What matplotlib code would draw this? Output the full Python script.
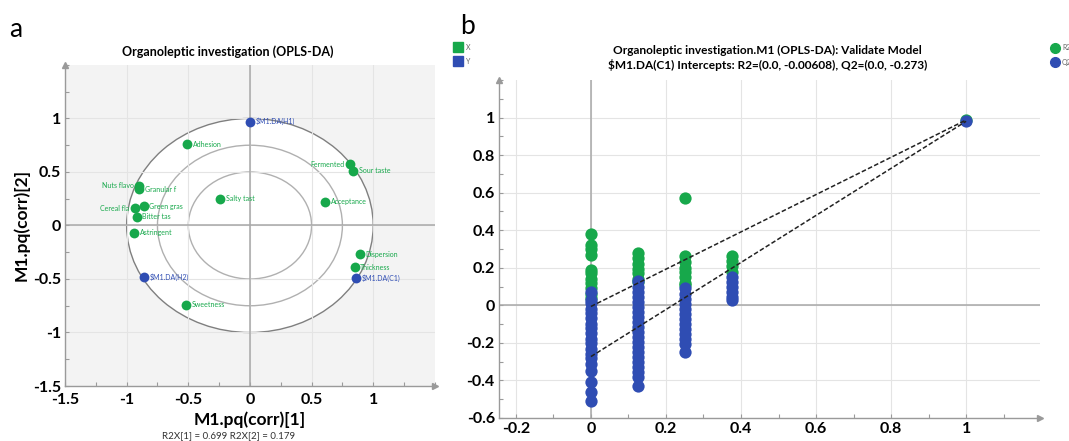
import matplotlib
matplotlib.use("Agg")
import matplotlib.pyplot as plt
from matplotlib.patches import Circle
from matplotlib.ticker import FixedLocator, MultipleLocator, FuncFormatter

plt.rcParams['font.family'] = ['Lato', 'DejaVu Sans']
plt.rcParams['axes.unicode_minus'] = False

GREEN = '#17a84b'
BLUE = '#2f4db3'
GRID = '#e4e4e4'
AXIS = '#9a9a9a'

# ---- panel a: loadings (corr) ----
x_names = ["Adhesion", "Fermented", "Sour taste", "Nuts flavo", "Granular f", "Salty tast",
           "Acceptance", "Cereal fla", "Green gras", "Bitter tas", "Astringent",
           "Dispersion", "Thickness", "Sweetness"]
x_pq1 = [-0.51, 0.81, 0.84, -0.90, -0.90, -0.24, 0.61, -0.93, -0.86, -0.92, -0.94, 0.89, 0.85, -0.52]
x_pq2 = [0.76, 0.57, 0.51, 0.37, 0.34, 0.25, 0.22, 0.16, 0.18, 0.08, -0.07, -0.27, -0.39, -0.74]
x_label_left = ["Fermented", "Nuts flavo", "Cereal fla"]

y_names = ["$M1.DA(H1)", "$M1.DA(H2)", "$M1.DA(C1)"]
y_pq1 = [0.0, -0.86, 0.86]
y_pq2 = [0.97, -0.48, -0.49]

circle_radii = [1.0, 0.75, 0.5]

# ---- panel b: permutation test ----
perm_x = [0.0, 0.125, 0.25, 0.375]
r2_perm = [
    [0.38, 0.32, 0.30, 0.27, 0.19, 0.17, 0.14, 0.12, 0.09, 0.06, 0.04],
    [0.28, 0.25, 0.22, 0.195, 0.17, 0.14, 0.125],
    [0.57, 0.26, 0.23, 0.20, 0.18, 0.15, 0.12, 0.11],
    [0.26, 0.235, 0.21, 0.18],
]
q2_perm = [
    [0.07, 0.03, 0.01, -0.02, -0.04, -0.07, -0.10, -0.12, -0.15, -0.18, -0.20, -0.23,
     -0.26, -0.28, -0.31, -0.35, -0.41, -0.46, -0.51],
    [0.13, 0.10, 0.07, 0.044, 0.017, -0.009, -0.035, -0.062, -0.089, -0.116, -0.142,
     -0.169, -0.196, -0.222, -0.249, -0.276, -0.302, -0.329, -0.356, -0.382, -0.43],
    [0.09, 0.06, 0.036, 0.009, -0.018, -0.044, -0.071, -0.098, -0.124, -0.151, -0.178,
     -0.204, -0.25],
    [0.15, 0.124, 0.098, 0.071, 0.044, 0.027],
]
orig_x = 1.0
r2_orig = 0.987
q2_orig = 0.98
r2_intercept = -0.00608
q2_intercept = -0.273


def fmt(v, pos):
    return "%g" % round(v, 2)


def styleAxes(ax, xticks, yticks, xminor, yminor):
    for s in ['top', 'right']:
        ax.spines[s].set_visible(False)
    for s in ['left', 'bottom']:
        ax.spines[s].set_color(AXIS)
        ax.spines[s].set_linewidth(1)
    ax.xaxis.set_major_locator(FixedLocator(xticks))
    ax.yaxis.set_major_locator(FixedLocator(yticks))
    ax.xaxis.set_minor_locator(MultipleLocator(xminor))
    ax.yaxis.set_minor_locator(MultipleLocator(yminor))
    ax.xaxis.set_major_formatter(FuncFormatter(fmt))
    ax.yaxis.set_major_formatter(FuncFormatter(fmt))
    ax.tick_params(which='both', direction='in', color=AXIS, length=3, width=0.8)
    ax.tick_params(which='major', labelsize=11.5)
    ax.tick_params(axis='x', which='major', pad=5)
    ax.tick_params(axis='y', which='major', pad=3)
    for lab in ax.get_xticklabels() + ax.get_yticklabels():
        lab.set_fontweight('bold')
    ax.set_axisbelow(True)
    ax.grid(True, which='major', color=GRID, lw=0.8)
    # arrows at the axis ends
    ax.plot(0, 1, marker='^', color=AXIS, ms=5, transform=ax.transAxes, clip_on=False)
    ax.plot(1, 0, marker='>', color=AXIS, ms=5, transform=ax.transAxes, clip_on=False)


fig = plt.figure(figsize=(10.69, 4.41), dpi=100)

# panel a
ax1 = fig.add_axes([0.0608, 0.1247, 0.346, 0.728])
ax1.set_facecolor('#f3f3f3')
ax1.set_xlim(-1.5, 1.5)
ax1.set_ylim(-1.5, 1.5)
for i, r in enumerate(circle_radii):
    c = Circle((0, 0), r, facecolor='white' if i == 0 else 'none',
               edgecolor='#7f7f7f' if i == 0 else '#b0b0b0', lw=1.0, zorder=0.2)
    ax1.add_patch(c)
styleAxes(ax1, [-1.5, -1, -0.5, 0, 0.5, 1], [-1.5, -1, -0.5, 0, 0.5, 1], 0.25, 0.25)
ax1.axhline(0, color='#a8a8a8', lw=1.1, zorder=1)
ax1.axvline(0, color='#a8a8a8', lw=1.1, zorder=1)

ax1.scatter(x_pq1, x_pq2, s=50, color=GREEN, zorder=3, linewidths=0)
ax1.scatter(y_pq1, y_pq2, s=50, color=BLUE, zorder=3, linewidths=0)
for n, xv, yv in zip(x_names, x_pq1, x_pq2):
    if n in x_label_left:
        ax1.annotate(n, (xv, yv), xytext=(-4, 0), textcoords='offset points',
                     ha='right', va='center', fontsize=5, color=GREEN, zorder=2)
    else:
        ax1.annotate(n, (xv, yv), xytext=(4, 0), textcoords='offset points',
                     ha='left', va='center', fontsize=5, color=GREEN, zorder=4)
for n, xv, yv in zip(y_names, y_pq1, y_pq2):
    ax1.annotate(n, (xv, yv), xytext=(4, 0), textcoords='offset points',
                 ha='left', va='center', fontsize=5, color=BLUE, zorder=4, parse_math=False)

ax1.set_xlabel("M1.pq(corr)[1]", fontsize=12.5, fontweight='bold', labelpad=3)
ax1.set_ylabel("M1.pq(corr)[2]", fontsize=12.5, fontweight='bold', labelpad=2)
fig.text(0.213, 0.882, "Organoleptic investigation (OPLS-DA)", ha='center', va='center',
         fontsize=9, fontweight='bold')
fig.text(0.214, 0.012, "R2X[1] = 0.699 R2X[2] = 0.179", ha='center', va='center',
         fontsize=7, color='#333333')
fig.text(0.009, 0.932, "a", ha='left', va='center', fontsize=19)

# legend a
fig.patches.append(plt.Rectangle((453 / 1069, 1 - 52 / 441), 10 / 1069, 10 / 441,
                                 transform=fig.transFigure, color=GREEN))
fig.patches.append(plt.Rectangle((453 / 1069, 1 - 66 / 441), 10 / 1069, 10 / 441,
                                 transform=fig.transFigure, color=BLUE))
fig.text(466 / 1069, 1 - 47 / 441, "X", fontsize=5, va='center', color='#666666')
fig.text(466 / 1069, 1 - 61 / 441, "Y", fontsize=5, va='center', color='#666666')

# panel b
ax2 = fig.add_axes([0.4668, 0.0522, 0.5061, 0.7664])
ax2.set_xlim(-0.245, 1.197)
ax2.set_ylim(-0.6, 1.2)
styleAxes(ax2, [-0.2, 0, 0.2, 0.4, 0.6, 0.8, 1], [-0.6, -0.4, -0.2, 0, 0.2, 0.4, 0.6, 0.8, 1],
          0.1, 0.1)
ax2.tick_params(axis='x', which='major', pad=3)
ax2.axhline(0, color='#a8a8a8', lw=1.1, zorder=1)
ax2.axvline(0, color='#a8a8a8', lw=1.1, zorder=1)

for xv, vals in zip(perm_x, r2_perm):
    ax2.scatter([xv] * len(vals), vals, s=78, color=GREEN, zorder=3, linewidths=0)
for xv, vals in zip(perm_x, q2_perm):
    ax2.scatter([xv] * len(vals), vals, s=78, color=BLUE, zorder=4, linewidths=0)
ax2.scatter([orig_x], [r2_orig], s=78, color=GREEN, zorder=3, linewidths=0)
ax2.scatter([orig_x], [q2_orig], s=78, color=BLUE, zorder=4, linewidths=0)
ax2.plot([0, orig_x], [r2_intercept, r2_orig], ls=(0, (3, 1.5)), color='#222222', lw=1.1, zorder=5)
ax2.plot([0, orig_x], [q2_intercept, q2_orig], ls=(0, (3, 1.5)), color='#222222', lw=1.1, zorder=5)

fig.text(0.718, 0.868, "Organoleptic investigation.M1 (OPLS-DA): Validate Model\n"
         "$M1.DA(C1) Intercepts: R2=(0.0, -0.00608), Q2=(0.0, -0.273)",
         ha='center', va='center', fontsize=8.6, fontweight='bold', linespacing=1.3,
         parse_math=False)
fig.text(0.430, 0.94, "b", ha='left', va='center', fontsize=19)

# legend b (cut by the figure edge)
fig.lines.append(plt.Line2D([1055 / 1069], [1 - 48 / 441], marker='o', ms=7, color=GREEN,
                            transform=fig.transFigure))
fig.lines.append(plt.Line2D([1055 / 1069], [1 - 62 / 441], marker='o', ms=7, color=BLUE,
                            transform=fig.transFigure))
fig.text(1062 / 1069, 1 - 48 / 441, "R2", fontsize=5, va='center', color='#666666')
fig.text(1062 / 1069, 1 - 62 / 441, "Q2", fontsize=5, va='center', color='#666666')

fig.savefig("out.png", dpi=100)
